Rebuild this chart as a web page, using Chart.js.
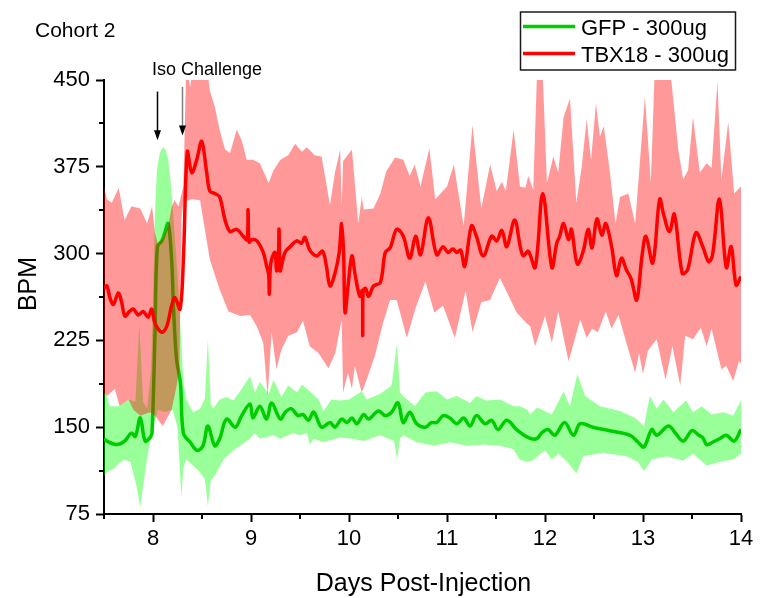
<!DOCTYPE html>
<html>
<head>
<meta charset="utf-8">
<title>Cohort 2 – Heart rate after injection</title>
<script src="https://cdn.jsdelivr.net/npm/chart.js@4.4.0/dist/chart.umd.min.js"></script>
<style>
  html, body { margin: 0; padding: 0; background: #fff; }
  #wrap { width: 760px; height: 598px; }
</style>
</head>
<body>
<div id="wrap"><canvas id="hr" width="760" height="598"></canvas></div>
<script>
// ---- axes ----
const xTicks = [8, 9, 10, 11, 12, 13, 14];
const xMinor = [7.5, 8.5, 9.5, 10.5, 11.5, 12.5, 13.5];
const yTicks = [75, 150, 225, 300, 375, 450];
const yMinor = [112.5, 187.5, 262.5, 337.5, 412.5];

// ---- TBX18 - 300ug : mean heart rate ----
const tbxDays = [7.50,7.53,7.56,7.595,7.646,7.68,7.714,7.76,7.80,7.85,7.90,7.95,7.987,8.02,8.09,8.14,8.19,8.224,8.276,8.31,8.35,8.395,8.446,8.497,8.548,8.58,8.63,8.68,8.735,8.786,8.854,8.92,8.96,8.97,8.98,9.007,9.06,9.125,9.16,9.18,9.187,9.195,9.21,9.245,9.26,9.28,9.286,9.295,9.30,9.347,9.40,9.466,9.517,9.55,9.60,9.67,9.73,9.77,9.806,9.857,9.90,9.925,9.945,9.96,9.99,10.03,10.06,10.11,10.135,10.14,10.145,10.17,10.20,10.25,10.32,10.37,10.42,10.487,10.554,10.62,10.68,10.73,10.81,10.895,10.96,11.01,11.06,11.10,11.14,11.18,11.25,11.30,11.37,11.456,11.507,11.56,11.61,11.69,11.75,11.78,11.83,11.90,11.977,12.07,12.12,12.15,12.19,12.24,12.27,12.33,12.39,12.44,12.48,12.53,12.58,12.62,12.68,12.73,12.78,12.83,12.88,12.936,12.99,13.03,13.10,13.17,13.21,13.27,13.32,13.40,13.455,13.54,13.61,13.67,13.71,13.78,13.85,13.90,13.95,14.0];
const tbxMean = [270,272,262,256,266,258,246,250,252,247,250,245,252,240,232,237,255,262,252,295,388,370,381,397,370,354,352,349,329,319,321,315,312,338,310,312,311,301,289,282,265,285,295,301,285,300,321,285,285,301,306,311,309,314,303,298,302,289,272,283,301,326,300,249,272,298,283,263,268,229,268,270,263,272,275,301,305,321,315,296,315,299,331,299,306,301,304,301,303,289,324,315,298,315,311,320,306,329,305,298,302,288,352,288,309,315,326,312,321,291,302,321,305,330,316,326,306,281,296,286,278,260,298,315,292,347,334,319,334,283,286,318,306,293,299,347,288,306,273,280];

// TBX18 spread: upper edge
const tbxHiDays = [7.50,7.53,7.58,7.65,7.71,7.78,7.87,7.94,7.99,8.02,8.05,8.10,8.15,8.19,8.22,8.26,8.31,8.34,8.38,8.42,8.50,8.56,8.58,8.63,8.68,8.735,8.786,8.854,8.905,8.956,9.02,9.09,9.18,9.23,9.30,9.38,9.45,9.52,9.57,9.65,9.72,9.806,9.857,9.91,9.925,9.94,10.03,10.095,10.13,10.15,10.25,10.32,10.38,10.47,10.554,10.62,10.67,10.73,10.82,10.88,11.0,11.07,11.17,11.26,11.35,11.44,11.507,11.56,11.60,11.68,11.745,11.80,11.83,11.88,11.92,11.97,12.02,12.085,12.135,12.19,12.255,12.32,12.375,12.425,12.47,12.52,12.56,12.60,12.66,12.72,12.765,12.85,12.92,13.02,13.08,13.12,13.18,13.24,13.29,13.36,13.41,13.46,13.51,13.58,13.65,13.70,13.76,13.80,13.87,13.93,14.0];
const tbxHi = [358,347,344,357,329,341,339,326,341,318,308,313,322,340,346,341,358,465,444,470,470,455,441,427,407,390,387,407,398,381,381,378,361,372,381,385,395,388,392,385,384,342,370,390,341,380,390,326,349,338,339,352,371,383,381,367,377,358,391,347,358,377,324,411,339,377,354,362,354,407,358,357,367,355,460,470,361,384,370,418,434,344,375,416,381,430,401,410,372,326,349,352,326,436,361,460,470,465,449,390,364,372,418,370,378,374,449,364,414,352,358];

// TBX18 spread: lower edge
const tbxLoDays = [7.50,7.53,7.61,7.66,7.75,7.80,7.87,7.97,8.02,8.10,8.19,8.24,8.27,8.29,8.31,8.40,8.48,8.58,8.68,8.77,8.89,8.99,9.06,9.125,9.17,9.21,9.26,9.31,9.38,9.47,9.53,9.60,9.69,9.79,9.86,9.925,9.94,9.99,10.03,10.06,10.13,10.18,10.265,10.35,10.42,10.487,10.59,10.68,10.78,10.87,10.96,11.08,11.19,11.26,11.35,11.44,11.54,11.62,11.71,11.81,11.85,11.90,12.0,12.07,12.135,12.24,12.36,12.425,12.48,12.54,12.62,12.68,12.75,12.83,12.92,12.96,13.0,13.05,13.14,13.23,13.30,13.38,13.43,13.51,13.59,13.65,13.70,13.80,13.85,13.92,13.98,14.0];
const tbxLo = [180,177,183,168,174,165,160,163,160,151,165,185,200,330,345,347,346,295,269,250,246,247,237,223,177,232,200,217,229,232,242,220,214,201,214,243,180,197,183,203,180,191,212,241,260,260,227,253,276,249,255,227,268,232,258,260,279,265,249,240,237,220,246,223,250,207,243,227,235,232,250,235,247,223,197,214,196,216,226,191,220,186,229,226,236,220,235,200,203,190,207,205];

// ---- GFP - 300ug : mean heart rate ----
const gfpDays = [7.50,7.53,7.63,7.71,7.78,7.82,7.87,7.92,7.97,7.99,8.02,8.045,8.09,8.12,8.155,8.19,8.21,8.24,8.28,8.31,8.38,8.45,8.51,8.56,8.63,8.68,8.75,8.84,8.905,8.99,9.02,9.09,9.16,9.21,9.30,9.35,9.41,9.48,9.53,9.585,9.64,9.72,9.806,9.857,9.925,9.98,10.03,10.08,10.15,10.20,10.30,10.37,10.435,10.50,10.554,10.62,10.69,10.78,10.84,10.895,10.96,11.03,11.10,11.17,11.235,11.30,11.39,11.456,11.52,11.61,11.71,11.83,11.915,11.966,12.03,12.10,12.20,12.29,12.36,12.49,12.66,12.87,12.95,13.01,13.09,13.14,13.26,13.33,13.41,13.50,13.57,13.61,13.65,13.71,13.78,13.85,13.93,14.0];
const gfpMean = [140,138,135,138,145,142,158,138,141,145,230,306,311,318,326,295,252,209,188,145,137,130,134,151,134,140,157,150,160,170,158,168,157,171,157,163,166,160,161,156,163,150,154,150,157,154,158,153,161,157,164,160,163,171,154,163,153,150,154,154,160,158,153,158,151,160,153,156,148,156,148,141,140,145,148,143,154,143,153,150,147,143,137,133,148,143,151,145,138,147,143,141,135,137,140,143,138,148];

// GFP spread: upper edge
const gfpHiDays = [7.50,7.53,7.56,7.66,7.75,7.82,7.86,7.90,7.94,7.98,8.00,8.02,8.04,8.07,8.10,8.13,8.155,8.18,8.20,8.22,8.26,8.29,8.31,8.34,8.41,8.48,8.53,8.56,8.59,8.615,8.68,8.75,8.82,8.905,8.99,9.04,9.09,9.18,9.23,9.31,9.38,9.47,9.52,9.60,9.69,9.74,9.82,9.91,10.0,10.13,10.18,10.32,10.435,10.49,10.52,10.554,10.67,10.78,10.895,11.0,11.10,11.235,11.30,11.40,11.54,11.68,11.745,11.82,11.85,11.92,12.07,12.19,12.255,12.33,12.41,12.56,12.765,12.92,13.01,13.07,13.14,13.21,13.31,13.44,13.51,13.60,13.70,13.82,13.92,14.0];
const gfpHi = [180,177,168,168,174,172,239,172,166,200,260,335,372,387,392,390,381,362,342,318,270,220,189,174,163,166,175,226,170,166,174,176,173,183,194,180,189,179,191,176,186,180,187,181,174,164,174,173,174,181,174,179,186,223,180,177,168,180,181,174,177,171,177,173,174,168,168,165,161,167,161,181,168,196,177,168,164,158,151,177,166,174,163,173,163,168,161,163,160,173];

// GFP spread: lower edge
const gfpLoDays = [7.50,7.53,7.60,7.70,7.77,7.83,7.87,7.90,7.95,8.00,8.05,8.12,8.20,8.25,8.27,8.29,8.31,8.34,8.41,8.48,8.53,8.56,8.59,8.63,8.72,8.82,8.89,8.99,9.04,9.09,9.23,9.30,9.43,9.50,9.57,9.60,9.64,9.74,9.91,10.03,10.15,10.32,10.46,10.49,10.52,10.554,10.69,10.87,11.03,11.2,11.37,11.54,11.68,11.74,11.82,11.87,12.0,12.07,12.14,12.23,12.32,12.39,12.59,12.83,12.95,13.01,13.09,13.25,13.41,13.51,13.65,13.78,13.92,14.0];
const gfpLo = [108,111,114,122,120,100,81,100,128,150,165,163,165,150,120,89,115,122,117,111,105,82,104,108,122,130,134,140,145,140,143,140,145,143,145,135,140,137,141,140,138,143,138,122,140,143,137,134,137,134,135,134,131,122,120,121,130,122,127,120,110,125,128,125,120,112,122,125,121,127,117,120,122,127];

// ---- annotations ----
const isoLabel = 'Iso Challenge';
const isoArrows = [
  { day: 8.045, top: 440, tip: 398, shaft: '#000000' },
  { day: 8.30,  top: 444, tip: 402, shaft: '#808080' }
];
const panelTitle = 'Cohort 2';
const xTitle = 'Days Post-Injection';
const yTitle = 'BPM';

const GREEN = 'rgb(0,205,0)';
const RED = 'rgb(255,0,0)';
const FONT = '"Liberation Sans", Arial, Helvetica, sans-serif';

const pts = (days, vals) => days.map((d, i) => ({ x: d, y: vals[i] }));

const bandEdge = (days, vals, fill, color) => ({
  data: pts(days, vals),
  borderColor: 'rgba(0,0,0,0)',
  borderWidth: 0,
  pointRadius: 0,
  tension: 0,
  fill: fill,
  backgroundColor: color
});

// Frame text, minor ticks, arrows and legend box
const decorations = {
  id: 'decorations',
  afterDraw(chart) {
    const { ctx, chartArea: a, scales: { x, y } } = chart;
    ctx.save();

    // minor ticks
    ctx.strokeStyle = '#000';
    ctx.lineWidth = 2;
    ctx.beginPath();
    xMinor.forEach(v => {
      const px = Math.round(x.getPixelForValue(v));
      ctx.moveTo(px, a.bottom);
      ctx.lineTo(px, a.bottom + 5);
    });
    yMinor.forEach(v => {
      const py = Math.round(y.getPixelForValue(v));
      ctx.moveTo(a.left - 5, py);
      ctx.lineTo(a.left, py);
    });
    ctx.stroke();

    // axis titles
    ctx.fillStyle = '#000';
    ctx.font = '25px ' + FONT;
    ctx.textAlign = 'center';
    ctx.textBaseline = 'alphabetic';
    ctx.fillText(xTitle, (a.left + a.right) / 2 + 1, 591);
    ctx.save();
    ctx.translate(36, 284);
    ctx.rotate(-Math.PI / 2);
    ctx.fillText(yTitle, 0, 0);
    ctx.restore();

    // panel title
    ctx.textAlign = 'left';
    ctx.font = '21px ' + FONT;
    ctx.fillText(panelTitle, 35, 37);

    // Iso challenge label and arrows
    ctx.font = '18px ' + FONT;
    ctx.fillText(isoLabel, 152, 75);
    isoArrows.forEach(ar => {
      const px = Math.round(x.getPixelForValue(ar.day)) + 0.5;
      const yTop = y.getPixelForValue(ar.top);
      const yTip = y.getPixelForValue(ar.tip);
      ctx.strokeStyle = ar.shaft;
      ctx.lineWidth = 1.5;
      ctx.beginPath();
      ctx.moveTo(px, yTop);
      ctx.lineTo(px, yTip - 8);
      ctx.stroke();
      ctx.fillStyle = '#000';
      ctx.beginPath();
      ctx.moveTo(px - 3.5, yTip - 10);
      ctx.lineTo(px + 3.5, yTip - 10);
      ctx.lineTo(px, yTip);
      ctx.closePath();
      ctx.fill();
    });

    // legend
    const entries = chart.data.datasets.filter(d => d.legend);
    ctx.strokeStyle = '#1a1a1a';
    ctx.lineWidth = 1.5;
    ctx.strokeRect(520.5, 12, 215, 58);
    ctx.font = '22px ' + FONT;
    ctx.fillStyle = '#000';
    entries.sort((p, q) => p.legend - q.legend).forEach((d, i) => {
      const ly = 26.5 + i * 27;
      ctx.strokeStyle = d.borderColor;
      ctx.lineWidth = 3.5;
      ctx.beginPath();
      ctx.moveTo(523, ly);
      ctx.lineTo(575, ly);
      ctx.stroke();
      ctx.fillStyle = '#000';
      ctx.fillText(d.label, 581, ly + 8.5);
    });

    ctx.restore();
  }
};

const tickFont = { family: FONT, size: 22 };

new Chart(document.getElementById('hr'), {
  type: 'line',
  data: {
    datasets: [
      { label: 'TBX18 - 300ug', legend: 2, data: pts(tbxDays, tbxMean), borderColor: RED, borderWidth: 3.5,
        pointRadius: 0, tension: 0.35, fill: false },
      bandEdge(tbxHiDays, tbxHi, '+1', 'rgba(255,0,0,0.4)'),
      bandEdge(tbxLoDays, tbxLo, false, 'rgba(0,0,0,0)'),
      { label: 'GFP - 300ug', legend: 1, data: pts(gfpDays, gfpMean), borderColor: GREEN, borderWidth: 3.5,
        pointRadius: 0, tension: 0.35, fill: false },
      bandEdge(gfpHiDays, gfpHi, '+1', 'rgba(0,255,0,0.4)'),
      bandEdge(gfpLoDays, gfpLo, false, 'rgba(0,0,0,0)')
    ]
  },
  options: {
    responsive: false,
    animation: false,
    devicePixelRatio: 1,
    layout: { padding: { top: 80, right: 19, bottom: 0, left: 0 } },
    plugins: {
      legend: { display: false },
      tooltip: { enabled: false },
      title: { display: false }
    },
    scales: {
      x: {
        type: 'linear',
        min: 7.5,
        max: 14,
        afterBuildTicks: s => { s.ticks = xTicks.map(v => ({ value: v })); },
        afterFit: s => { s.height = 84; },
        border: { display: true, color: '#000', width: 2 },
        grid: { display: true, drawOnChartArea: false, drawTicks: true, tickLength: 8, tickWidth: 2, tickColor: '#000' },
        ticks: { color: '#000', font: tickFont, padding: 4, maxRotation: 0, autoSkip: false }
      },
      y: {
        type: 'linear',
        min: 75,
        max: 450,
        afterBuildTicks: s => { s.ticks = yTicks.map(v => ({ value: v })); },
        afterFit: s => { s.width = 104; },
        border: { display: true, color: '#000', width: 2 },
        grid: { display: true, drawOnChartArea: false, drawTicks: true, tickLength: 8, tickWidth: 2, tickColor: '#000' },
        ticks: { color: '#000', font: tickFont, padding: 6, autoSkip: false }
      }
    }
  },
  plugins: [decorations]
});
</script>
</body>
</html>
